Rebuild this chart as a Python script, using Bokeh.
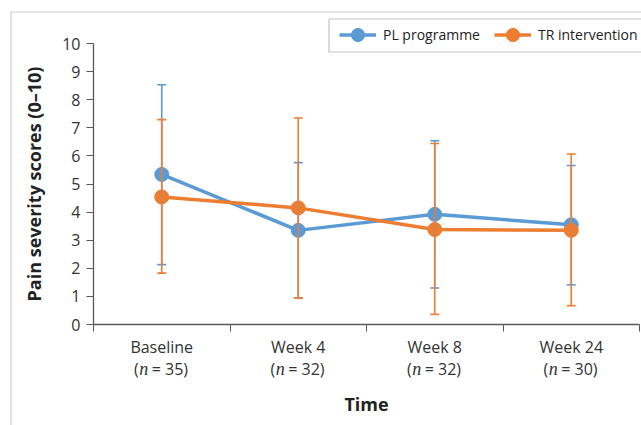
from bokeh.plotting import figure
from bokeh.models import (Range1d, FixedTicker, Legend, LegendItem, Label, Whisker,
                          TeeHead, ColumnDataSource, BoxAnnotation)
from bokeh.embed import file_html
from bokeh.resources import INLINE

categories = ["Baseline", "Week 4", "Week 8", "Week 24"]
n_values = [35, 32, 32, 30]
y_ticks = list(range(0, 11))

pl_mean = [5.34, 3.35, 3.92, 3.55]
pl_upper = [8.53, 5.76, 6.54, 5.66]
pl_lower = [2.13, 0.94, 1.30, 1.41]

tr_mean = [4.54, 4.15, 3.38, 3.35]
tr_upper = [7.29, 7.35, 6.44, 6.07]
tr_lower = [1.83, 0.94, 0.36, 0.67]

BLUE = "#5B9BD5"
ORANGE = "#ED7D31"
FONT = "Open Sans"
TXT = "#333333"

# layout (pixels in the 641x425 canvas)
W, H = 641, 425
AX_LEFT, AX_RIGHT, AX_TOP, AX_BOTTOM = 93, 639, 43, 324
ncat = len(categories)
ymax = y_ticks[-1]
px_x = (AX_RIGHT - AX_LEFT) / ncat
px_y = (AX_BOTTOM - AX_TOP) / ymax
x_start = -AX_LEFT / px_x
x_end = ncat + (W - AX_RIGHT) / px_x
y_end = AX_BOTTOM / px_y
y_start = -(H - AX_BOTTOM) / px_y

xs = [i + 0.5 for i in range(ncat)]

p = figure(width=W, height=H, x_range=Range1d(x_start, x_end),
           y_range=Range1d(y_start, y_end), output_backend="svg", toolbar_location=None,
           min_border=0)
p.outline_line_color = None
p.xgrid.visible = False
p.ygrid.visible = False

# outer frame of the picture
p.add_layout(BoxAnnotation(left=10.5, right=W + 20, top=11.5, bottom=H + 20,
                           left_units="canvas", right_units="canvas",
                           top_units="canvas", bottom_units="canvas",
                           fill_alpha=0, line_color="#555555", line_width=1.2))

# axes
p.yaxis.fixed_location = 0
p.yaxis.bounds = (0, ymax)
p.yaxis.ticker = FixedTicker(ticks=y_ticks)
p.yaxis.major_tick_out = 7
p.yaxis.major_tick_in = 0
p.yaxis.minor_tick_line_color = None
p.yaxis.axis_line_color = "#595959"
p.yaxis.major_tick_line_color = "#595959"
p.yaxis.axis_line_width = 1.3
p.yaxis.major_label_text_font = FONT
p.yaxis.major_label_text_font_size = "16px"
p.yaxis.major_label_text_color = TXT
p.yaxis.major_label_standoff = 6
p.yaxis.axis_label = "Pain severity scores (0\u201310)"
p.yaxis.axis_label_text_font = FONT
p.yaxis.axis_label_text_font_style = "bold"
p.yaxis.axis_label_text_font_size = "18px"
p.yaxis.axis_label_text_color = "#222222"
p.yaxis.axis_label_standoff = 13

p.xaxis.fixed_location = 0
p.xaxis.bounds = (0, ncat)
p.xaxis.ticker = FixedTicker(ticks=list(range(ncat + 1)))
p.xaxis.major_tick_out = 7
p.xaxis.major_tick_in = 0
p.xaxis.minor_tick_line_color = None
p.xaxis.axis_line_color = "#595959"
p.xaxis.major_tick_line_color = "#595959"
p.xaxis.axis_line_width = 1.3
p.xaxis.major_label_overrides = {i: "" for i in range(ncat + 1)}
p.xaxis.axis_label = "Time"
p.xaxis.axis_label_text_font = FONT
p.xaxis.axis_label_text_font_style = "bold"
p.xaxis.axis_label_text_font_size = "18px"
p.xaxis.axis_label_text_color = "#222222"
p.xaxis.axis_label_standoff = 60

# error bars
pl_src = ColumnDataSource(dict(x=xs, y=pl_mean, lo=pl_lower, hi=pl_upper))
tr_src = ColumnDataSource(dict(x=xs, y=tr_mean, lo=tr_lower, hi=tr_upper))
for src, col in ((pl_src, BLUE), (tr_src, ORANGE)):
    w = Whisker(source=src, base="x", upper="hi", lower="lo", dimension="height",
                line_color=col, line_width=1.6, level="glyph",
                upper_head=TeeHead(size=9, line_color=col, line_width=1.6),
                lower_head=TeeHead(size=9, line_color=col, line_width=1.6))
    p.add_layout(w)

pl_line = p.line("x", "y", source=pl_src, line_color=BLUE, line_width=3.5)
tr_line = p.line("x", "y", source=tr_src, line_color=ORANGE, line_width=3.5)
pl_pts = p.scatter("x", "y", source=pl_src, size=14, fill_color=BLUE, line_color=BLUE)
tr_pts = p.scatter("x", "y", source=tr_src, size=14, fill_color=ORANGE, line_color=ORANGE)

# legend box + legend
p.add_layout(BoxAnnotation(left=328.5, right=W + 20, top=18.5, bottom=51.5,
                           left_units="canvas", right_units="canvas",
                           top_units="canvas", bottom_units="canvas",
                           fill_color="white", fill_alpha=1,
                           line_color="#404040", line_width=1.2))
legend = Legend(items=[LegendItem(label="PL programme", renderers=[pl_line, pl_pts]),
                       LegendItem(label="TR intervention", renderers=[tr_line, tr_pts])],
                orientation="horizontal", location=(339, H - 51),
                border_line_color=None, background_fill_alpha=0,
                label_text_font=FONT, label_text_font_size="14px", label_text_color="#222222",
                glyph_width=37, glyph_height=33, label_standoff=7, spacing=14,
                padding=0, margin=0)
p.add_layout(legend, "center")

# category labels
for x, cat, n in zip(xs, categories, n_values):
    p.add_layout(Label(x=x, y=0, text=cat, y_offset=-22, text_align="center",
                       text_baseline="middle", text_font=FONT, text_font_size="16px",
                       text_color=TXT))
    p.add_layout(Label(x=x, y=0, text="(", x_offset=-23, y_offset=-44, text_align="right",
                       text_baseline="middle", text_font=FONT, text_font_size="16px",
                       text_color=TXT))
    p.add_layout(Label(x=x, y=0, text="n", x_offset=-18, y_offset=-44, text_align="center",
                       text_baseline="middle", text_font="Liberation Serif",
                       text_font_style="italic", text_font_size="18px", text_color=TXT))
    p.add_layout(Label(x=x, y=0, text=f"= {n})", x_offset=-10, y_offset=-44,
                       text_align="left", text_baseline="middle", text_font=FONT,
                       text_font_size="16px", text_color=TXT))

open("out.html", "w").write(file_html(p, INLINE))
